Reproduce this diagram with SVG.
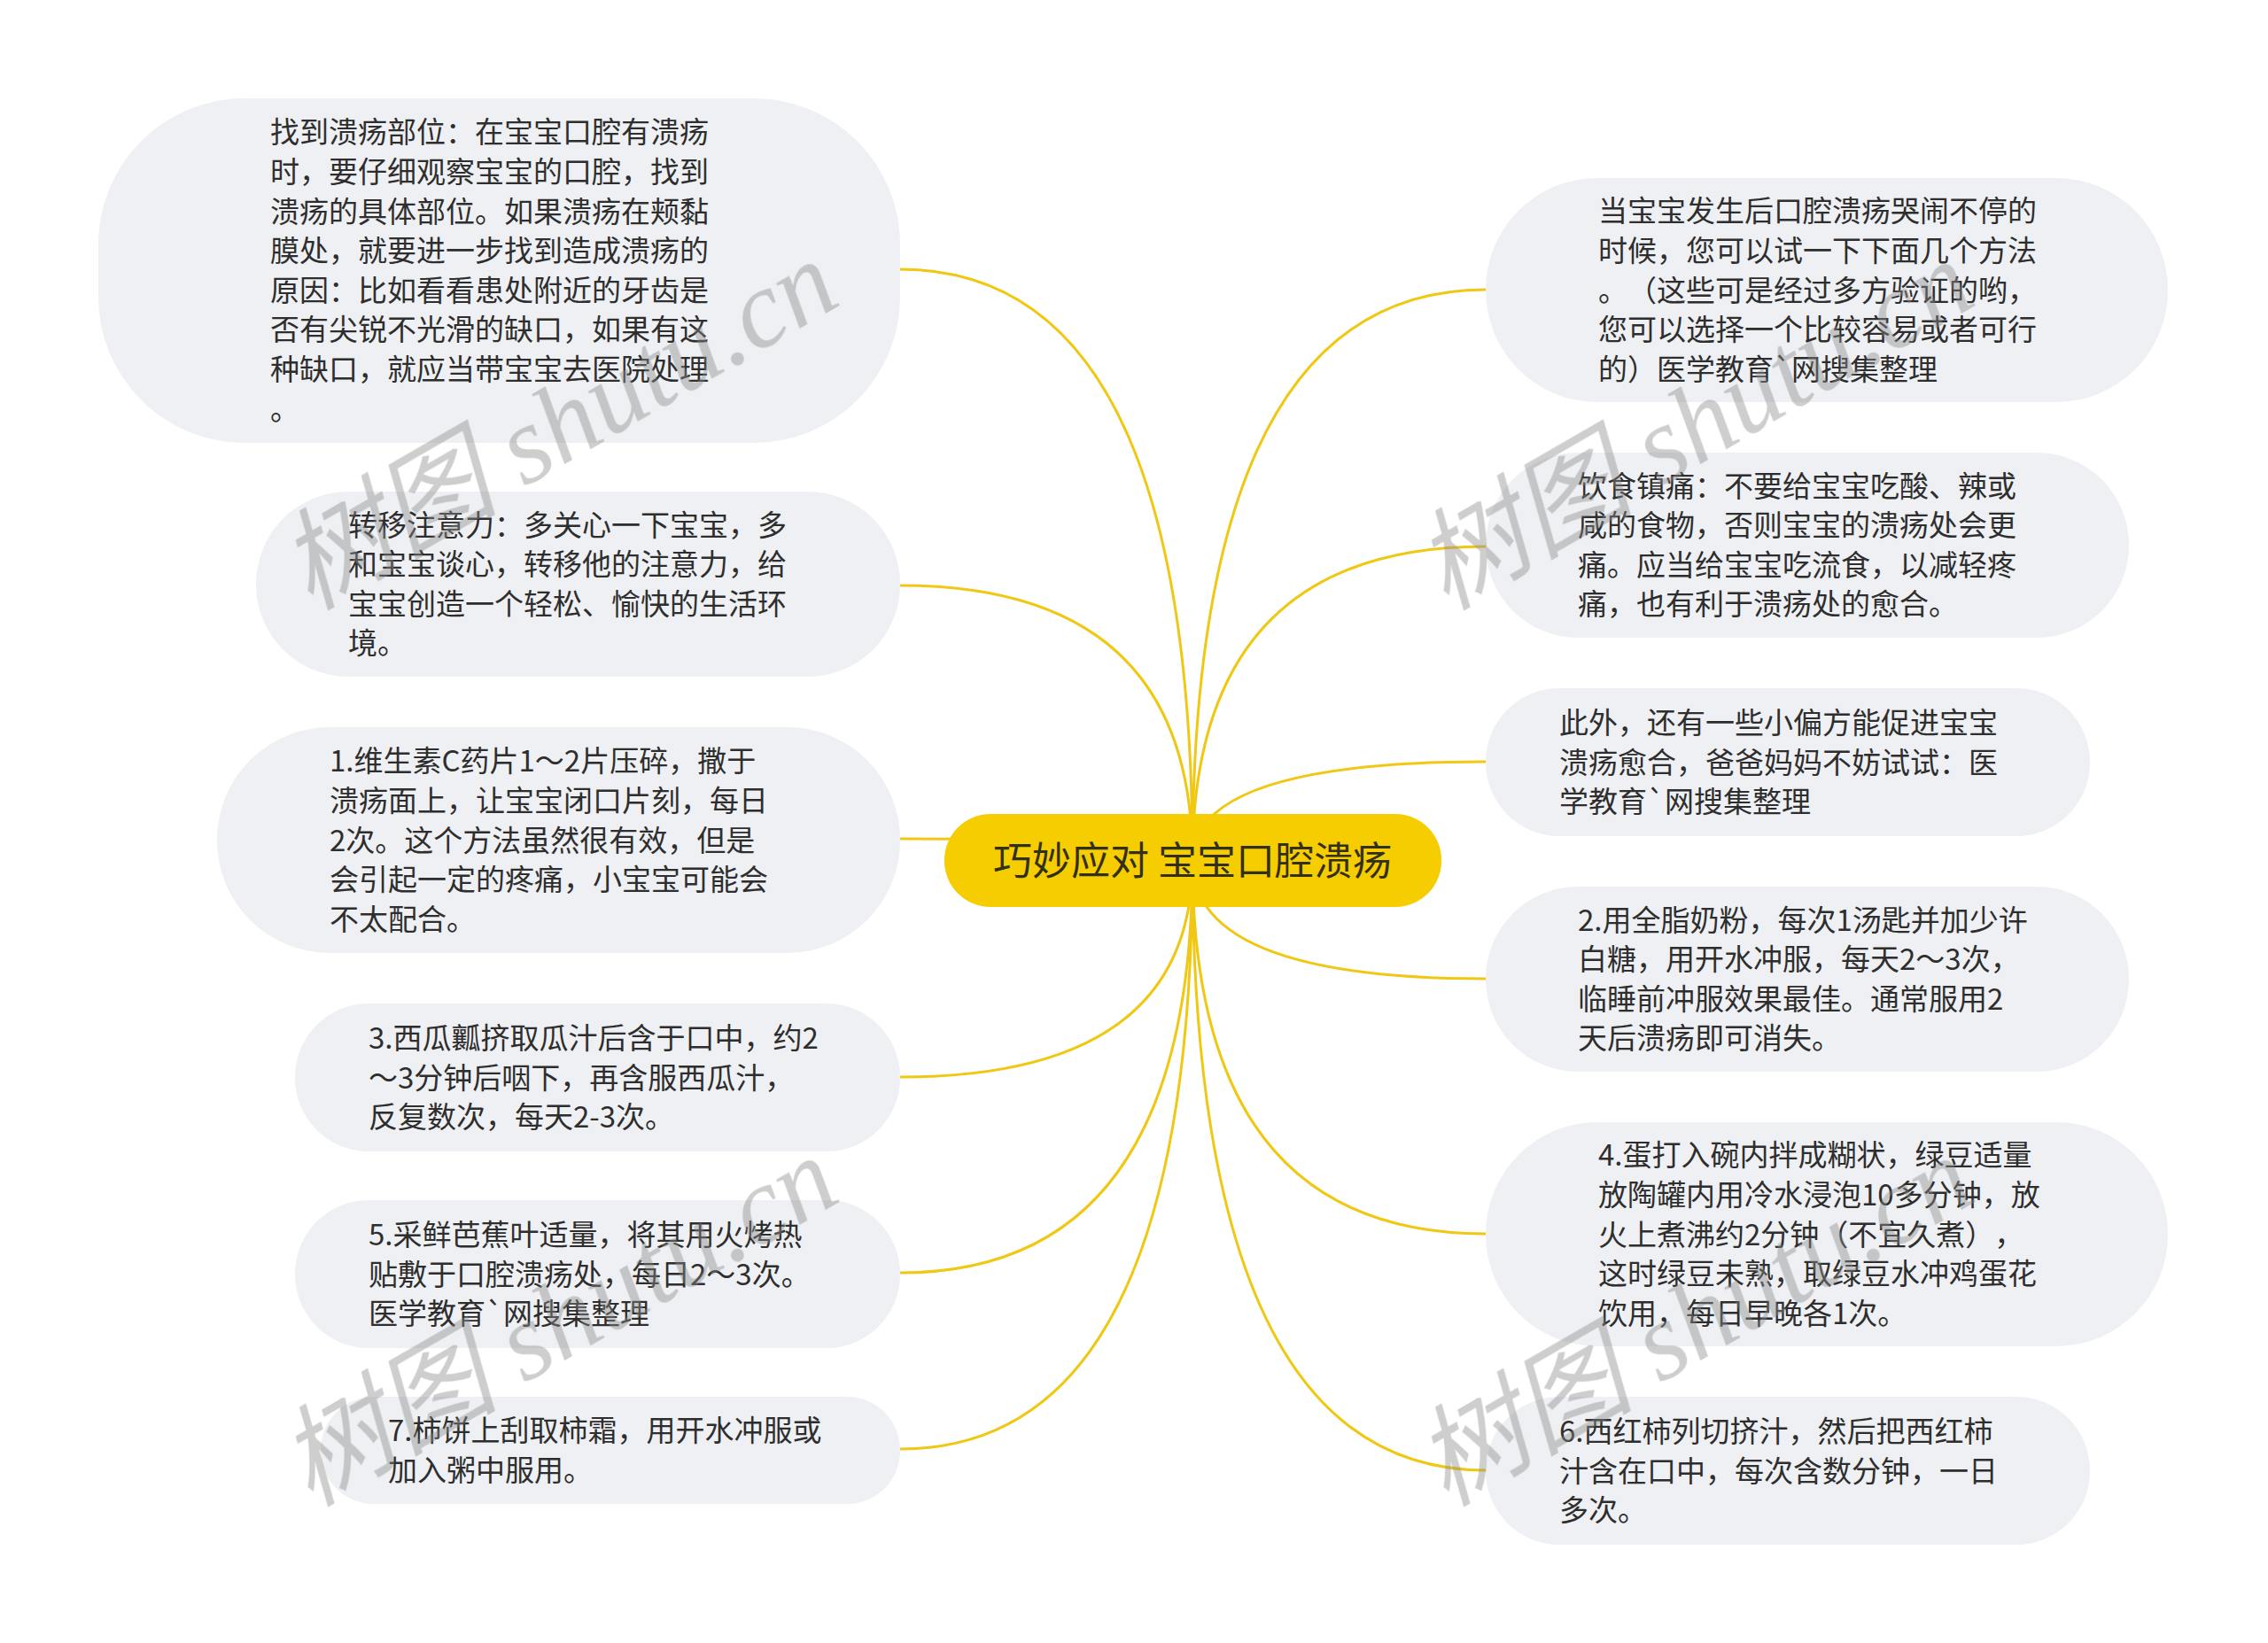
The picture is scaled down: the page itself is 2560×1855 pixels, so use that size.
<svg xmlns="http://www.w3.org/2000/svg" width="2560" height="1855" viewBox="0 0 2560 1855">
<style>
text{text-spacing-trim:space-all}
.leaf rect{fill:#eef0f3}
.leaf text{font-family:"Noto Sans CJK SC","Noto Sans",sans-serif;font-size:33px;fill:#2e2e2e}
.conn path{fill:none;stroke:#f0c814;stroke-width:3}
.root rect{fill:#f6cd00}
.root text{font-family:"Noto Sans CJK SC","Noto Sans",sans-serif;font-size:44px;fill:#333018}
.wm{font-family:"Liberation Serif","Noto Sans CJK SC",serif;font-size:124px;font-style:italic;fill:#8a8a8a;opacity:0.42}
</style>
<rect x="0" y="0" width="2560" height="1855" fill="#ffffff"/>
<g id="connectors" class="conn">
<path d="M1346,971.5 Q1346,304 1016,304"/>
<path d="M1346,971.5 Q1346,661 1016,661"/>
<path d="M1346,971.5 Q1346,947 1016,947"/>
<path d="M1346,971.5 Q1346,1216 1016,1216"/>
<path d="M1346,971.5 Q1346,1437 1016,1437"/>
<path d="M1346,971.5 Q1346,1636 1016,1636"/>
<path d="M1346,971.5 Q1346,327 1677,327"/>
<path d="M1346,971.5 Q1346,617 1677,617"/>
<path d="M1346,971.5 Q1346,860 1677,860"/>
<path d="M1346,971.5 Q1346,1105 1677,1105"/>
<path d="M1346,971.5 Q1346,1393 1677,1393"/>
<path d="M1346,971.5 Q1346,1660 1677,1660"/>
</g>
<g id="root" class="root">
<rect x="1066" y="919" width="561" height="105" rx="52" ry="52"/>
<text x="1346" y="987.5" text-anchor="middle">巧妙应对 宝宝口腔溃疡</text>
</g>
<g id="L1" class="leaf">
<rect x="111" y="111" width="905" height="389" rx="165" ry="165"/>
<text x="305" y="161.4">找到溃疡部位：在宝宝口腔有溃疡<tspan x="305" dy="44.6">时，要仔细观察宝宝的口腔，找到</tspan><tspan x="305" dy="44.6">溃疡的具体部位。如果溃疡在颊黏</tspan><tspan x="305" dy="44.6">膜处，就要进一步找到造成溃疡的</tspan><tspan x="305" dy="44.6">原因：比如看看患处附近的牙齿是</tspan><tspan x="305" dy="44.6">否有尖锐不光滑的缺口，如果有这</tspan><tspan x="305" dy="44.6">种缺口，就应当带宝宝去医院处理</tspan><tspan x="305" dy="44.6">。</tspan></text>
</g>
<g id="L2" class="leaf">
<rect x="289" y="555" width="727" height="209" rx="104" ry="104"/>
<text x="393" y="604.6">转移注意力：多关心一下宝宝，多<tspan x="393" dy="44.6">和宝宝谈心，转移他的注意力，给</tspan><tspan x="393" dy="44.6">宝宝创造一个轻松、愉快的生活环</tspan><tspan x="393" dy="44.6">境。</tspan></text>
</g>
<g id="L3" class="leaf">
<rect x="245" y="821" width="771" height="255" rx="127" ry="127"/>
<text x="372" y="871.3">1.维生素C药片1～2片压碎，撒于<tspan x="372" dy="44.6">溃疡面上，让宝宝闭口片刻，每日</tspan><tspan x="372" dy="44.6">2次。这个方法虽然很有效，但是</tspan><tspan x="372" dy="44.6">会引起一定的疼痛，小宝宝可能会</tspan><tspan x="372" dy="44.6">不太配合。</tspan></text>
</g>
<g id="L4" class="leaf">
<rect x="333" y="1133" width="683" height="167" rx="83" ry="83"/>
<text x="416" y="1183.9">3.西瓜瓤挤取瓜汁后含于口中，约2<tspan x="416" dy="44.6">～3分钟后咽下，再含服西瓜汁，</tspan><tspan x="416" dy="44.6">反复数次，每天2-3次。</tspan></text>
</g>
<g id="L5" class="leaf">
<rect x="333" y="1355" width="683" height="167" rx="83" ry="83"/>
<text x="416" y="1405.9">5.采鲜芭蕉叶适量，将其用火烤热<tspan x="416" dy="44.6">贴敷于口腔溃疡处，每日2～3次。</tspan><tspan x="416" dy="44.6">医学教育`网搜集整理</tspan></text>
</g>
<g id="L6" class="leaf">
<rect x="362" y="1577" width="654" height="121" rx="60" ry="60"/>
<text x="438" y="1627.2">7.柿饼上刮取柿霜，用开水冲服或<tspan x="438" dy="44.6">加入粥中服用。</tspan></text>
</g>
<g id="R1" class="leaf">
<rect x="1677" y="201" width="770" height="253" rx="126" ry="126"/>
<text x="1804" y="250.3">当宝宝发生后口腔溃疡哭闹不停的<tspan x="1804" dy="44.6">时候，您可以试一下下面几个方法</tspan><tspan x="1804" dy="44.6">。（这些可是经过多方验证的哟，</tspan><tspan x="1804" dy="44.6">您可以选择一个比较容易或者可行</tspan><tspan x="1804" dy="44.6">的）医学教育`网搜集整理</tspan></text>
</g>
<g id="R2" class="leaf">
<rect x="1677" y="511" width="726" height="209" rx="104" ry="104"/>
<text x="1781" y="560.6">饮食镇痛：不要给宝宝吃酸、辣或<tspan x="1781" dy="44.6">咸的食物，否则宝宝的溃疡处会更</tspan><tspan x="1781" dy="44.6">痛。应当给宝宝吃流食，以减轻疼</tspan><tspan x="1781" dy="44.6">痛，也有利于溃疡处的愈合。</tspan></text>
</g>
<g id="R3" class="leaf">
<rect x="1677" y="777" width="682" height="167" rx="83" ry="83"/>
<text x="1760" y="827.9">此外，还有一些小偏方能促进宝宝<tspan x="1760" dy="44.6">溃疡愈合，爸爸妈妈不妨试试：医</tspan><tspan x="1760" dy="44.6">学教育`网搜集整理</tspan></text>
</g>
<g id="R4" class="leaf">
<rect x="1677" y="1001" width="726" height="209" rx="104" ry="104"/>
<text x="1781" y="1050.6">2.用全脂奶粉，每次1汤匙并加少许<tspan x="1781" dy="44.6">白糖，用开水冲服，每天2～3次，</tspan><tspan x="1781" dy="44.6">临睡前冲服效果最佳。通常服用2</tspan><tspan x="1781" dy="44.6">天后溃疡即可消失。</tspan></text>
</g>
<g id="R5" class="leaf">
<rect x="1677" y="1267" width="770" height="253" rx="126" ry="126"/>
<text x="1804" y="1316.3">4.蛋打入碗内拌成糊状，绿豆适量<tspan x="1804" dy="44.6">放陶罐内用冷水浸泡10多分钟，放</tspan><tspan x="1804" dy="44.6">火上煮沸约2分钟（不宜久煮），</tspan><tspan x="1804" dy="44.6">这时绿豆未熟，取绿豆水冲鸡蛋花</tspan><tspan x="1804" dy="44.6">饮用，每日早晚各1次。</tspan></text>
</g>
<g id="R6" class="leaf">
<rect x="1677" y="1577" width="682" height="167" rx="83" ry="83"/>
<text x="1760" y="1627.9">6.西红柿列切挤汁，然后把西红柿<tspan x="1760" dy="44.6">汁含在口中，每次含数分钟，一日</tspan><tspan x="1760" dy="44.6">多次。</tspan></text>
</g>
<g id="watermarks" class="wm">
<text transform="translate(350,690) rotate(-30)">树图 shutu.cn</text>
<text transform="translate(1632,690) rotate(-30)">树图 shutu.cn</text>
<text transform="translate(350,1702) rotate(-30)">树图 shutu.cn</text>
<text transform="translate(1632,1702) rotate(-30)">树图 shutu.cn</text>
</g>
</svg>
